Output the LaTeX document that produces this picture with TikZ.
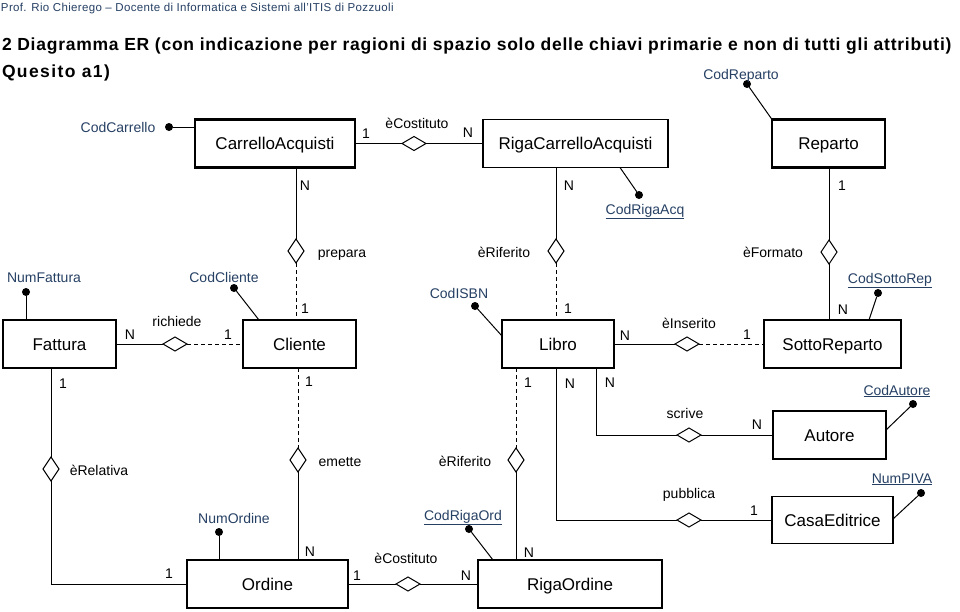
\documentclass[tikz,border=0pt]{standalone}
\usepackage{fontspec}
\setmainfont{Liberation Sans}
\usetikzlibrary{shapes.geometric}
\definecolor{attcol}{RGB}{38,64,100}
\begin{document}
\begin{tikzpicture}[x=1pt,y=-1pt,
  every node/.style={inner sep=0pt, outer sep=0pt},
  ent/.style={draw, line width=1.2pt, rectangle, minimum height=48pt, font=\fontsize{17}{17}\selectfont, text height=12.2pt, text depth=0pt},
  entk/.style={ent, line width=2.2pt},
  rel/.style={draw, diamond, fill=white, line width=1pt, minimum width=24pt, minimum height=14pt},
  relv/.style={draw, diamond, fill=white, line width=1pt, minimum width=16pt, minimum height=24pt},
  lab/.style={font=\fontsize{14}{14}\selectfont, text height=10pt, text depth=0pt},
  att/.style={lab, text=attcol},
  attdot/.style={circle, fill=black, minimum size=8pt},
  conn/.style={line width=1pt},
  dsh/.style={conn, dash pattern=on 4pt off 3pt},
]
\useasboundingbox[fill=white] (0,0) rectangle (960,611);

% header
\node[anchor=base west, text=attcol, font=\fontsize{11.5}{11.5}\selectfont\addfontfeature{LetterSpace=3}] (hdr) at (1,11) {Prof. Rio Chierego – Docente di Informatica e Sistemi all'ITIS di Pozzuoli};
\node[anchor=base west, font=\fontsize{17.5}{17.5}\selectfont\bfseries\addfontfeature{LetterSpace=4.3}] (ttl) at (2,50) {2 Diagramma ER (con indicazione per ragioni di spazio solo delle chiavi primarie e non di tutti gli attributi)};
\node[anchor=base west, font=\fontsize{17.5}{17.5}\selectfont\bfseries\addfontfeature{LetterSpace=8}] (ques) at (2,77) {Quesito a1)};

% entities
\node[entk, minimum width=160pt] (ca) at (275,143.5) {CarrelloAcquisti};
\node[ent, minimum width=185pt] (rca) at (575.5,143.5) {RigaCarrelloAcquisti};
\node[entk, minimum width=113pt] (rep) at (828.5,143.5) {Reparto};
\node[entk, minimum width=113pt] (fat) at (59.5,344) {Fattura};
\node[entk, minimum width=113pt] (cli) at (299.5,344) {Cliente};
\node[entk, minimum width=112pt] (lib) at (558,344) {Libro};
\node[ent, minimum width=137pt] (sr) at (832.5,344) {SottoReparto};
\node[ent, minimum width=113pt] (aut) at (829.5,435) {Autore};
\node[ent, minimum width=121pt, minimum height=47pt] (ce) at (832.5,520) {CasaEditrice};
\node[entk, minimum width=161pt] (ord) at (267.5,584) {Ordine};
\node[ent, minimum width=184pt] (ro) at (570,584) {RigaOrdine};

% relationships
\node[rel] (r1) at (414,143.5) {};
\node[relv] (r2) at (296,251) {};
\node[relv] (r3) at (556,251) {};
\node[relv] (r4) at (829,252) {};
\node[rel] (r5) at (175,344) {};
\node[rel] (r6) at (687,344) {};
\node[relv] (r7) at (51,469) {};
\node[relv] (r8) at (298,460) {};
\node[relv] (r9) at (516,460) {};
\node[rel] (r10) at (689,435) {};
\node[rel] (r11) at (689,520) {};
\node[rel] (r12) at (408,584) {};

% connectors
\draw[conn] (ca) -- (r1) -- (rca);
\draw[conn] (ca.south -| r2) -- (r2.north);
\draw[dsh] (r2.south) -- (cli.north -| r2);
\draw[conn] (rca.south -| r3) -- (r3.north);
\draw[dsh] (r3.south) -- (lib.north -| r3);
\draw[conn] (rep.south -| r4) -- (r4.north);
\draw[conn] (r4.south) -- (sr.north -| r4);
\draw[conn] (fat.east) -- (r5.west);
\draw[dsh] (r5.east) -- (cli.west);
\draw[conn] (lib.east) -- (r6.west);
\draw[dsh] (r6.east) -- (sr.west);
\draw[conn] (fat.south -| r7) -- (r7.north);
\draw[conn] (r7.south) |- (ord.west);
\draw[dsh] (cli.south -| r8) -- (r8.north);
\draw[conn] (r8.south) -- (ord.north -| r8);
\draw[dsh] (lib.south -| r9) -- (r9.north);
\draw[conn] (r9.south) -- (ro.north -| r9);
\coordinate (k10) at (596,435);
\draw[conn] (lib.south -| k10) -- (k10) -- (r10.west);
\draw[conn] (r10.east) -- (aut.west);
\coordinate (k11) at (556,520);
\draw[conn] (lib.south -| k11) -- (k11) -- (r11.west);
\draw[conn] (r11.east) -- (ce.west);
\draw[conn] (ord.east) -- (r12.west);
\draw[conn] (r12.east) -- (ro.west);

% relationship labels
\node[lab] (l1) at (417,123) {èCostituto};
\node[lab] (l2) at (342,252) {prepara};
\node[lab] (l3) at (504,252) {èRiferito};
\node[lab] (l4) at (773,252) {èFormato};
\node[lab] (l5) at (177,321) {richiede};
\node[lab] (l6) at (689,323) {èInserito};
\node[lab] (l7) at (99,470) {èRelativa};
\node[lab] (l8) at (340,461) {emette};
\node[lab] (l9) at (465,461) {èRiferito};
\node[lab] (l10) at (685,413) {scrive};
\node[lab] (l11) at (689,493) {pubblica};
\node[lab] (l12) at (406,558) {èCostituto};

% cardinalities
\node[lab] (c1a) at (366,133) {1};
\node[lab] (c1b) at (468,132) {N};
\node[lab] (c2a) at (305,185) {N};
\node[lab] (c2b) at (305,308) {1};
\node[lab] (c3a) at (569,185) {N};
\node[lab] (c3b) at (568,308) {1};
\node[lab] (c4a) at (842,185) {1};
\node[lab] (c4b) at (843,309) {N};
\node[lab] (c5a) at (130,334) {N};
\node[lab] (c5b) at (228,334) {1};
\node[lab] (c6a) at (625,335) {N};
\node[lab] (c6b) at (747,334) {1};
\node[lab] (c7a) at (63,383) {1};
\node[lab] (c7b) at (169,573) {1};
\node[lab] (c8a) at (309,381) {1};
\node[lab] (c8b) at (310,551) {N};
\node[lab] (c9a) at (528,382) {1};
\node[lab] (c9b) at (529,552) {N};
\node[lab] (c10a) at (610,382) {N};
\node[lab] (c10b) at (757,424) {N};
\node[lab] (c11a) at (570,383) {N};
\node[lab] (c11b) at (754,510) {1};
\node[lab] (c12a) at (357,575) {1};
\node[lab] (c12b) at (466,575) {N};

% attributes
\node[attdot] (dCC) at (169,127) {};
\draw[conn] (dCC) -- (ca.west |- dCC);
\node[att] (aCC) at (118,127) {CodCarrello};
\node[attdot] (dCR) at (747,84) {};
\draw[conn] (dCR) -- (rep.north west);
\node[att] (aCR) at (741,74) {CodReparto};
\node[attdot] (dRA) at (639,195) {};
\draw[conn] (dRA) -- ([xshift=44.5pt]rca.south);
\node[att] (aRA) at (645,209) {\underline{CodRigaAcq}};
\node[attdot] (dNF) at (26,292) {};
\draw[conn] (dNF) -- (fat.north -| dNF);
\node[att] (aNF) at (44,277) {NumFattura};
\node[attdot] (dCl) at (234,288) {};
\draw[conn] (dCl) -- ([xshift=-40.5pt]cli.north);
\node[att] (aCl) at (224,277) {CodCliente};
\node[attdot] (dIS) at (475,306) {};
\draw[conn] (dIS) -- ([yshift=8pt]lib.west);
\node[att] (aIS) at (459,293) {CodISBN};
\node[attdot] (dSR) at (878,293) {};
\draw[conn] (dSR) -- ([xshift=36.5pt]sr.north);
\node[att] (aSR) at (890,278) {\underline{CodSottoRep}};
\node[attdot] (dAu) at (913,404) {};
\draw[conn] (dAu) -- ([yshift=5pt]aut.east);
\node[att] (aAu) at (897,390) {\underline{CodAutore}};
\node[attdot] (dPI) at (921,493) {};
\draw[conn] (dPI) -- ([yshift=1pt]ce.east);
\node[att] (aPI) at (902,478) {\underline{NumPIVA}};
\node[attdot] (dNO) at (219,532) {};
\draw[conn] (dNO) -- (ord.north -| dNO);
\node[att] (aNO) at (234,518) {NumOrdine};
\node[attdot] (dRO) at (469,529) {};
\draw[conn] (dRO) -- ([xshift=-77pt]ro.north);
\node[att] (aRO) at (463,515) {\underline{CodRigaOrd}};
\end{tikzpicture}
\end{document}
